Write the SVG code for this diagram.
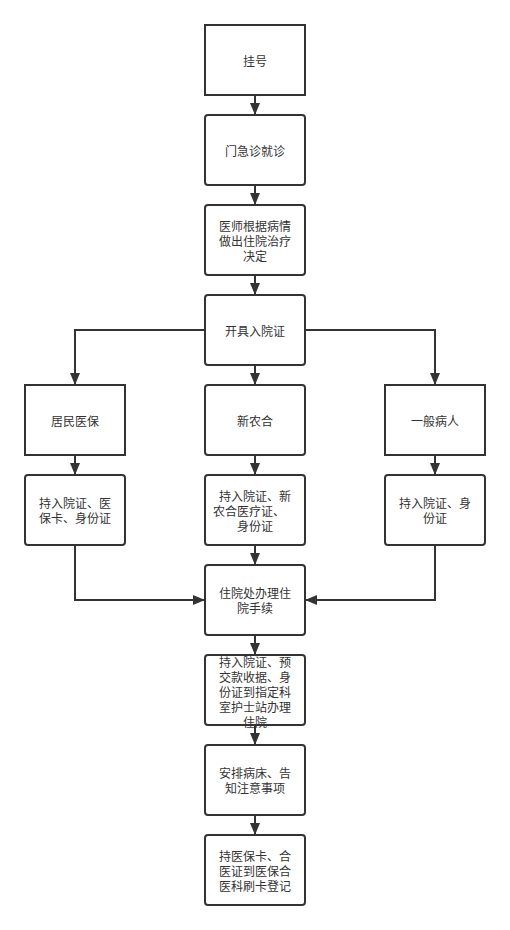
<svg xmlns="http://www.w3.org/2000/svg" width="510" height="930" viewBox="0 0 510 930">
<style>
.box{fill:#ffffff;stroke:#333333;stroke-width:2}
.t{font-family:"Microsoft YaHei","Noto Sans CJK SC",sans-serif;font-size:12px;fill:#333333;text-anchor:middle}
.c{fill:none;stroke:#333333;stroke-width:2}
</style>
<defs>
<marker id="arr" markerUnits="userSpaceOnUse" markerWidth="12" markerHeight="12" viewBox="0 0 12 12" refX="12" refY="6" orient="auto">
<path d="M0,1 L12,6 L0,11 Z" fill="#333333"/>
</marker>
</defs>
<rect width="510" height="930" fill="#ffffff"/>
<g id="n1"><rect class="box" x="205" y="25" width="100" height="70"/><text class="t" x="255" y="66">挂号</text></g>
<g id="n2"><rect class="box" x="205" y="115" width="100" height="70" rx="3"/><text class="t" x="255" y="156">门急诊就诊</text></g>
<g id="n3"><rect class="box" x="205" y="205" width="100" height="70" rx="3"/><text class="t" x="255" y="231">医师根据病情</text><text class="t" x="255" y="246">做出住院治疗</text><text class="t" x="255" y="261">决定</text></g>
<g id="n4"><rect class="box" x="205" y="295" width="100" height="70" rx="3"/><text class="t" x="255" y="336">开具入院证</text></g>
<g id="n5"><rect class="box" x="25" y="385" width="100" height="70"/><text class="t" x="75" y="426">居民医保</text></g>
<g id="n6"><rect class="box" x="205" y="385" width="100" height="70" rx="3"/><text class="t" x="255" y="426">新农合</text></g>
<g id="n7"><rect class="box" x="385" y="385" width="100" height="70"/><text class="t" x="435" y="426">一般病人</text></g>
<g id="n8"><rect class="box" x="25" y="475" width="100" height="70" rx="3"/><text class="t" x="75" y="508">持入院证、医</text><text class="t" x="75" y="523">保卡、身份证</text></g>
<g id="n9"><rect class="box" x="205" y="475" width="100" height="70" rx="3"/><text class="t" x="255" y="501">持入院证、新</text><text class="t" x="249" y="516">农合医疗证、</text><text class="t" x="255" y="531">身份证</text></g>
<g id="n10"><rect class="box" x="385" y="475" width="100" height="70" rx="3"/><text class="t" x="435" y="508">持入院证、身</text><text class="t" x="435" y="523">份证</text></g>
<g id="n11"><rect class="box" x="205" y="565" width="100" height="70" rx="3"/><text class="t" x="255" y="598">住院处办理住</text><text class="t" x="255" y="613">院手续</text></g>
<g id="n12"><rect class="box" x="205" y="655" width="100" height="70" rx="3"/><text class="t" x="255" y="667">持入院证、预</text><text class="t" x="255" y="682">交款收据、身</text><text class="t" x="255" y="697">份证到指定科</text><text class="t" x="255" y="712">室护士站办理</text><text class="t" x="255" y="727">住院</text></g>
<g id="n13"><rect class="box" x="205" y="745" width="100" height="70" rx="3"/><text class="t" x="255" y="778">安排病床、告</text><text class="t" x="255" y="793">知注意事项</text></g>
<g id="n14"><rect class="box" x="205" y="835" width="100" height="70" rx="3"/><text class="t" x="255" y="861">持医保卡、合</text><text class="t" x="255" y="876">医证到医保合</text><text class="t" x="255" y="891">医科刷卡登记</text></g>
<g id="connectors">
<path class="c" d="M255,95 L255,115" marker-end="url(#arr)"/>
<path class="c" d="M255,185 L255,205" marker-end="url(#arr)"/>
<path class="c" d="M255,275 L255,295" marker-end="url(#arr)"/>
<path class="c" d="M255,365 L255,385" marker-end="url(#arr)"/>
<path class="c" d="M205,330 L75,330 L75,385" marker-end="url(#arr)"/>
<path class="c" d="M305,330 L435,330 L435,385" marker-end="url(#arr)"/>
<path class="c" d="M75,455 L75,475" marker-end="url(#arr)"/>
<path class="c" d="M255,455 L255,475" marker-end="url(#arr)"/>
<path class="c" d="M435,455 L435,475" marker-end="url(#arr)"/>
<path class="c" d="M255,545 L255,565" marker-end="url(#arr)"/>
<path class="c" d="M75,545 L75,600 L205,600" marker-end="url(#arr)"/>
<path class="c" d="M435,545 L435,600 L305,600" marker-end="url(#arr)"/>
<path class="c" d="M255,635 L255,655" marker-end="url(#arr)"/>
<path class="c" d="M255,725 L255,745" marker-end="url(#arr)"/>
<path class="c" d="M255,815 L255,835" marker-end="url(#arr)"/>
</g>
</svg>
